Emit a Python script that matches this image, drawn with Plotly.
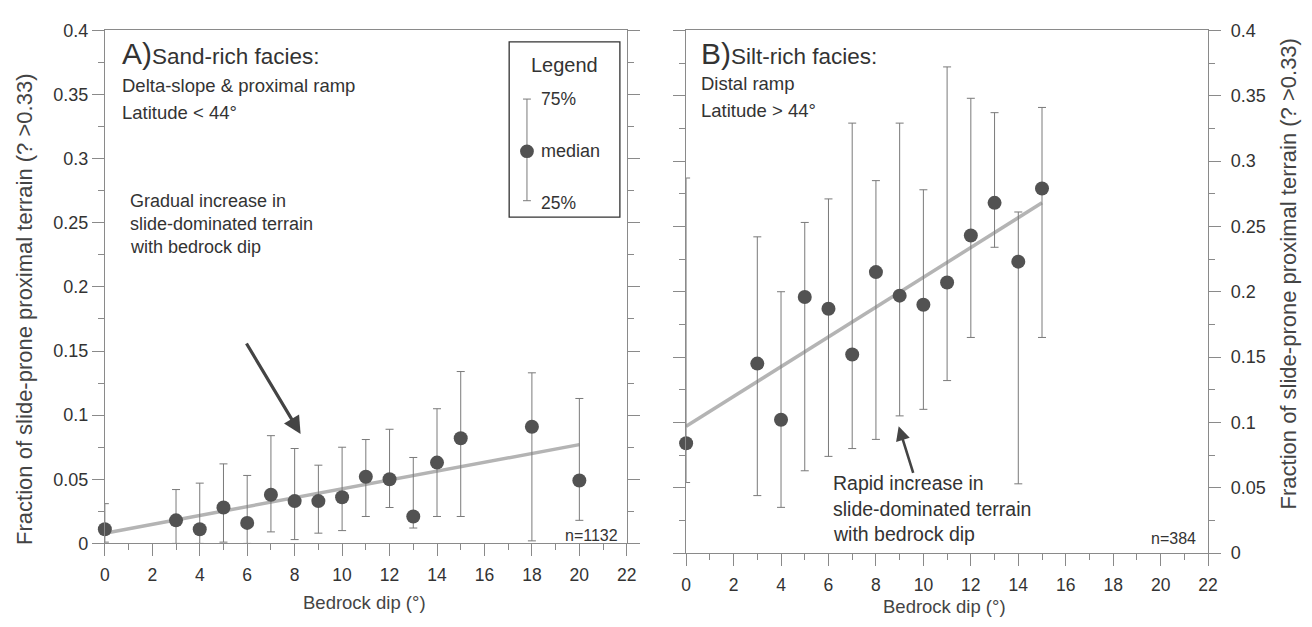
import plotly.graph_objects as go

# ---------------- data ----------------
dip_A = [0, 3, 4, 5, 6, 7, 8, 9, 10, 11, 12, 13, 14, 15, 18, 20]
med_A = [0.011, 0.018, 0.011, 0.028, 0.016, 0.038, 0.033, 0.033, 0.036, 0.052, 0.050, 0.021, 0.063, 0.082, 0.091, 0.049]
q75_A = [0.031, 0.042, 0.047, 0.062, 0.053, 0.084, 0.074, 0.061, 0.075, 0.081, 0.089, 0.067, 0.105, 0.134, 0.133, 0.113]
q25_A = [0.001, 0.0, 0.0, 0.001, 0.0, 0.009, 0.003, 0.008, 0.010, 0.021, 0.028, 0.012, 0.021, 0.021, 0.002, 0.018]
trend_x_A = [0, 20]
trend_y_A = [0.008, 0.077]

dip_B = [0, 3, 4, 5, 6, 7, 8, 9, 10, 11, 12, 13, 14, 15]
med_B = [0.084, 0.145, 0.102, 0.196, 0.187, 0.152, 0.215, 0.197, 0.190, 0.207, 0.243, 0.268, 0.223, 0.279]
q75_B = [0.287, 0.242, 0.200, 0.253, 0.271, 0.329, 0.285, 0.329, 0.278, 0.372, 0.348, 0.337, 0.261, 0.341]
q25_B = [0.054, 0.044, 0.035, 0.063, 0.074, 0.080, 0.087, 0.105, 0.110, 0.132, 0.165, 0.234, 0.053, 0.165]
trend_x_B = [0, 15]
trend_y_B = [0.097, 0.268]

x_ticks = list(range(0, 23, 2))
y_title = "Fraction of slide-prone proximal terrain (? >0.33)"
x_title = "Bedrock dip (°)"

# ---------------- layout helpers ----------------
W, H = 1312, 627
def px(x):
    return x / W
def py(y):
    return 1 - y / H

FONT = "Liberation Sans, Arial, sans-serif"
MARK = "#525252"
ERR = "#7a7a7a"
TREND = "#b4b4b4"
AXC = "#8a8a8a"
TXT = "#333333"

fig = go.Figure()

def add_panel(dips, med, q75, q25, tx, ty, xa, ya):
    fig.add_trace(go.Scatter(
        x=tx, y=ty, mode="lines", xaxis=xa, yaxis=ya,
        line=dict(color=TREND, width=3.5), hoverinfo="skip", showlegend=False))
    fig.add_trace(go.Scatter(
        x=dips, y=med, mode="markers", xaxis=xa, yaxis=ya, cliponaxis=False,
        marker=dict(size=14, color=MARK),
        error_y=dict(type="data", symmetric=False,
                     array=[a - m for a, m in zip(q75, med)],
                     arrayminus=[m - b for m, b in zip(med, q25)],
                     color=ERR, thickness=1, width=4),
        showlegend=False))

add_panel(dip_A, med_A, q75_A, q25_A, trend_x_A, trend_y_A, "x", "y")
add_panel(dip_B, med_B, q75_B, q25_B, trend_x_B, trend_y_B, "x2", "y2")

xcommon = dict(range=[0, 22], tickvals=x_ticks, ticks="outside", ticklen=12,
               tickcolor=AXC, showline=True, linecolor=AXC, linewidth=1,
               mirror=True, showgrid=False, zeroline=False, ticklabelstandoff=4,
               minor=dict(dtick=1, ticks="outside", ticklen=6, tickcolor=AXC),
               tickfont=dict(family=FONT, size=17.5, color=TXT))
ycommon = dict(range=[0, 0.4], dtick=0.05, ticks="outside", ticklen=12,
               tickcolor=AXC, showline=True, linecolor=AXC, linewidth=1,
               mirror="ticks", showgrid=False, zeroline=False,
               minor=dict(dtick=0.025, ticks="outside", ticklen=6, tickcolor=AXC),
               tickfont=dict(family=FONT, size=18, color=TXT))

fig.update_layout(
    width=W, height=H,
    margin=dict(l=0, r=0, t=0, b=0),
    paper_bgcolor="white", plot_bgcolor="white",
    xaxis=dict(domain=[px(101), px(629)], anchor="y", **xcommon),
    yaxis=dict(domain=[py(551), py(21)], anchor="x", side="left", **ycommon),
    xaxis2=dict(domain=[px(689), px(1217)], anchor="y2", **xcommon),
    yaxis2=dict(domain=[py(561), py(21)], anchor="x2", side="right",
                ticklabelstandoff=6, **ycommon),
)

ann = []
def txt(x, y, s, size=16, xanchor="left", yanchor="middle", angle=0, color=TXT):
    ann.append(dict(x=px(x), y=py(y), xref="paper", yref="paper", text=s,
                    showarrow=False, xanchor=xanchor, yanchor=yanchor,
                    textangle=angle, font=dict(family=FONT, size=size, color=color)))

# axis titles
txt(19, 309, y_title, size=22, xanchor="center", angle=-90, color="#444")
txt(1298, 273, y_title, size=22, xanchor="center", angle=-90, color="#444")
txt(364, 612, x_title, size=18.5, xanchor="center", color="#444")
txt(950, 616, x_title, size=18.5, xanchor="center", color="#444")

# panel A text
txt(116, 45, "<span style='font-size:30px'>A)</span>Sand-rich facies:", size=22.5)
txt(116, 78, "Delta-slope &amp; proximal ramp", size=18.5)
txt(116, 106, "Latitude &lt; 44°", size=18.5)
txt(124, 197, "Gradual increase in", size=18)
txt(124, 221, "slide-dominated terrain", size=18)
txt(124, 245, "with bedrock dip", size=18)
txt(622, 543, "n=1132", size=16, xanchor="right")

# panel B text
txt(702, 45, "<span style='font-size:30px'>B)</span>Silt-rich facies:", size=22.5)
txt(702, 76, "Distal ramp", size=18.5)
txt(702, 104, "Latitude &gt; 44°", size=18.5)
txt(836, 489, "Rapid increase in", size=19.5)
txt(836, 515, "slide-dominated terrain", size=19.5)
txt(836, 541, "with bedrock dip", size=19.5)
txt(1207, 546, "n=384", size=16, xanchor="right")

# arrows (tail offset in pixels)
def arrow(x0, y0, x1, y1, width):
    ann.append(dict(x=px(x1), y=py(y1), xref="paper", yref="paper",
                    ax=x0 - x1, ay=y0 - y1, axref="pixel", ayref="pixel",
                    text="", showarrow=True, arrowhead=2, arrowsize=1.1,
                    arrowwidth=width, arrowcolor="#444444"))
arrow(244, 346, 299, 438, 3.2)
arrow(919, 478, 904, 430, 2.6)

# legend box content
txt(566, 57, "Legend", size=20, xanchor="center")
txt(540, 92, "75%", size=17.5)
txt(540, 146, "median", size=18)
txt(540, 199, "25%", size=17.5)

fig.update_layout(annotations=ann)

shapes = [
    dict(type="rect", xref="paper", yref="paper", x0=px(510), x1=px(622),
         y0=py(214), y1=py(33), line=dict(color="#333", width=1.3)),
    dict(type="line", xref="paper", yref="paper", x0=px(528), x1=px(528),
         y0=py(197), y1=py(92), line=dict(color=ERR, width=1)),
    dict(type="line", xref="paper", yref="paper", x0=px(524), x1=px(532),
         y0=py(92), y1=py(92), line=dict(color=ERR, width=1)),
    dict(type="line", xref="paper", yref="paper", x0=px(524), x1=px(532),
         y0=py(197), y1=py(197), line=dict(color=ERR, width=1)),
    dict(type="circle", xref="paper", yref="paper", x0=px(521), x1=px(535),
         y0=py(153), y1=py(139), fillcolor=MARK, line=dict(color=MARK, width=0)),
]
fig.update_layout(shapes=shapes)

fig.write_html("out.html", config={"displayModeBar": False},
               post_script="document.body.style.margin='0';document.body.style.overflow='hidden';")
